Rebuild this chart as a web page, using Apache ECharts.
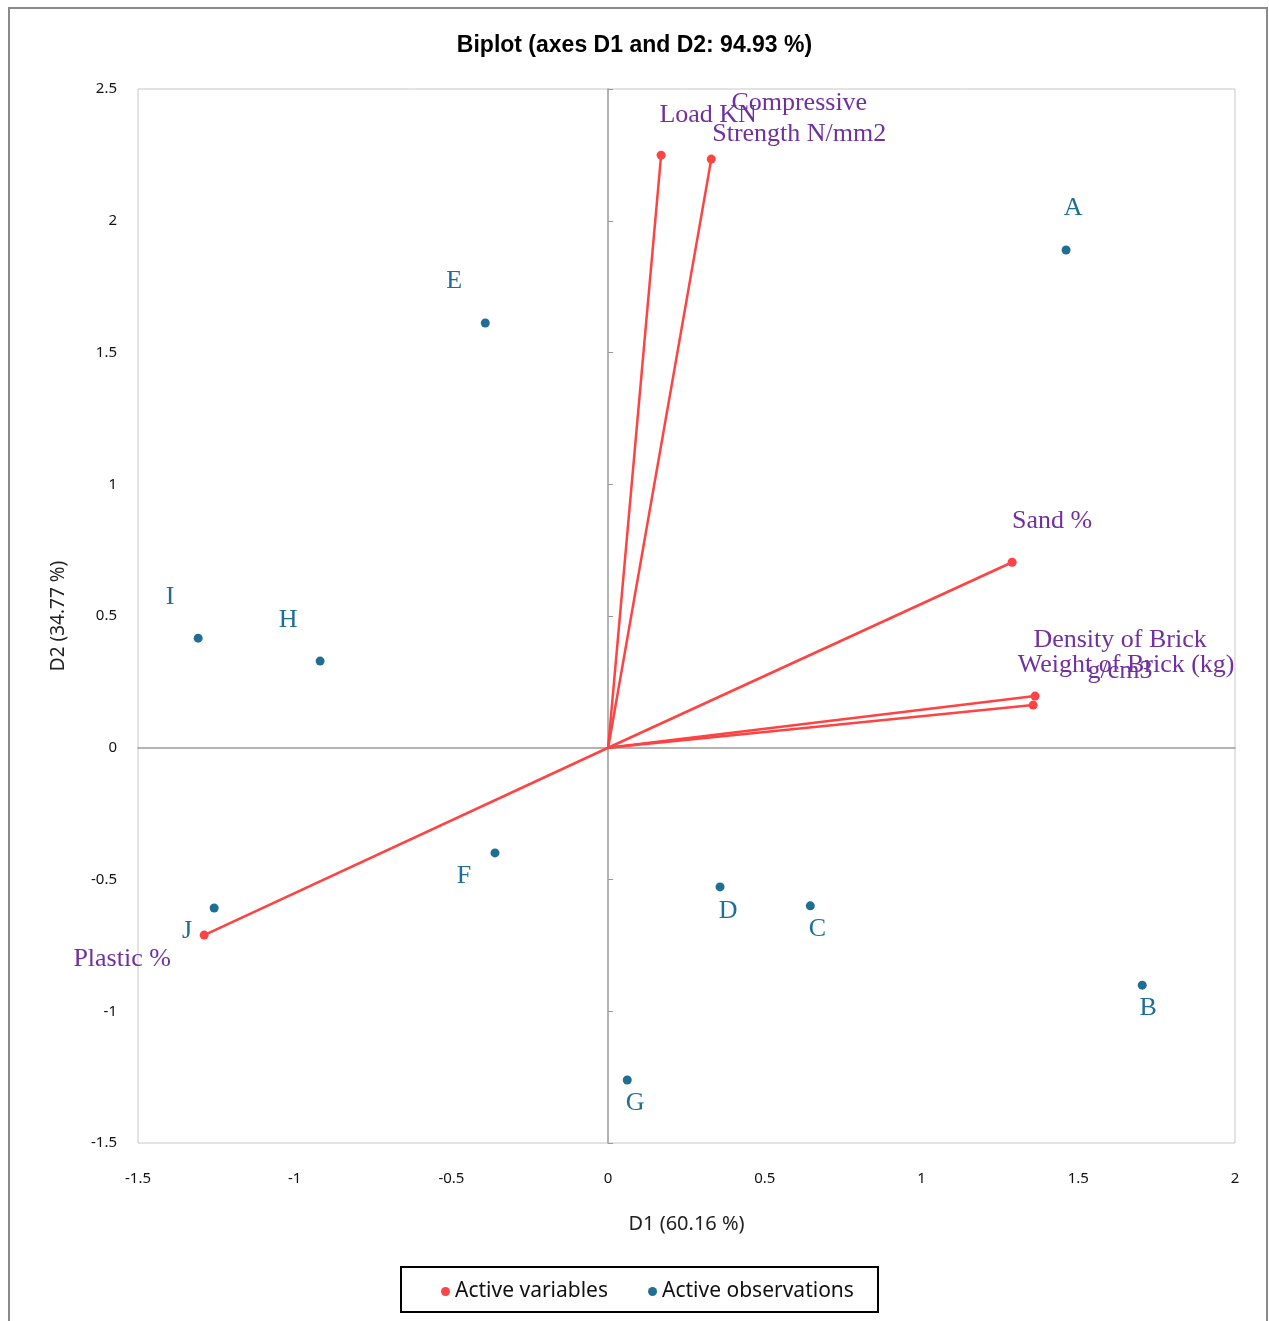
<!DOCTYPE html>
<html style="height: 100%">
<head>
<meta charset="utf-8">
<title>Biplot</title>
<script src="https://cdn.jsdelivr.net/npm/echarts@6/dist/echarts.min.js"></script>
</head>
<body style="height: 100%; margin: 0; background: #fff">
<div id="target" style="width: 1269px; height: 1321px"></div>
<script>
// observations (blue points)
const obsNames = ['A', 'B', 'C', 'D', 'E', 'F', 'G', 'H', 'I', 'J'];
const obsD1 = [1.461, 1.704, 0.645, 0.357, -0.392, -0.361, 0.061, -0.919, -1.308, -1.257];
const obsD2 = [1.889, -0.901, -0.600, -0.528, 1.612, -0.399, -1.261, 0.329, 0.416, -0.608];

// variables (red vectors from origin)
const varNames = ['Load KN', 'Compressive\nStrength N/mm2', 'Sand %', 'Density of Brick\ng/cm3', 'Weight of Brick (kg)', 'Plastic %'];
const varD1 = [0.169, 0.329, 1.289, 1.362, 1.356, -1.289];
const varD2 = [2.249, 2.234, 0.704, 0.196, 0.162, -0.711];

const xMin = -1.5, xMax = 2, yMin = -1.5, yMax = 2.5, step = 0.5;

// label offsets in pixels (centre of label relative to point)
const obsOffset = {
    A: [7, -42], B: [6, 23], C: [7, 23], D: [8, 24], E: [-31, -42],
    F: [-31, 23], G: [8, 23], H: [-32, -41], I: [-28, -41], J: [-27, 23]
};
const varOffset = [[47, -40], [88, -40], [40, -41], [85, -40], [93, -40], [-82, 24]];

const red = '#ff4242';
const blue = '#1f6e96';
const purple = '#7030a0';
const serif = '"Liberation Serif", "DejaVu Serif", serif';
const sans = '"Noto Sans", "DejaVu Sans", sans-serif';

let chart = echarts.init(document.getElementById('target'));

let vectorSeries = varNames.map((n, i) => ({
    name: 'vec' + i,
    type: 'line',
    xAxisIndex: 0,
    yAxisIndex: 0,
    data: [[0, 0], [varD1[i], varD2[i]]],
    showSymbol: false,
    symbol: 'none',
    silent: true,
    lineStyle: { color: red, width: 2.5 },
    z: 3,
}));

let option = {
    animation: false,
    backgroundColor: '#fff',
    title: {
        text: 'Biplot (axes D1 and D2: 94.93 %)',
        left: 'center',
        top: 29,
        textStyle: {
            fontFamily: '"Liberation Sans", Arial, sans-serif',
            fontWeight: 'bold',
            fontSize: 23,
            color: '#000',
        },
    },
    legend: {
        data: ['Active variables', 'Active observations'],
        left: 436,
        top: 1276,
        icon: 'circle',
        itemWidth: 9,
        itemHeight: 9,
        itemGap: 40,
        textStyle: { fontFamily: sans, fontSize: 21, color: '#111' },
    },
    grid: {
        left: 138,
        right: 34,
        top: 89,
        bottom: 178,
        show: true,
        borderColor: '#c8c8c8',
        borderWidth: 1,
    },
    xAxis: [
        {
            type: 'value',
            min: xMin, max: xMax, interval: step,
            position: 'bottom',
            name: 'D1 (60.16 %)',
            nameLocation: 'middle',
            nameGap: 71,
            nameTextStyle: { fontFamily: sans, fontSize: 20, color: '#222' },
            axisLine: { show: false },
            axisTick: { show: false },
            splitLine: { show: false },
            axisLabel: { margin: 28, fontFamily: sans, fontSize: 15, color: '#111' },
        },
        {
            type: 'value',
            min: xMin, max: xMax, interval: step,
            axisLine: { show: true, onZero: true, onZeroAxisIndex: 1, lineStyle: { color: '#9a9a9a', width: 1.5 } },
            axisTick: { show: false },
            axisLabel: { show: false },
            splitLine: { show: false },
        },
    ],
    yAxis: [
        {
            type: 'value',
            min: yMin, max: yMax, interval: step,
            position: 'left',
            name: 'D2 (34.77 %)',
            nameLocation: 'middle',
            nameGap: 70,
            nameTextStyle: { fontFamily: sans, fontSize: 19, color: '#222' },
            axisLine: { show: false },
            axisTick: { show: false },
            splitLine: { show: false },
            axisLabel: { margin: 21, fontFamily: sans, fontSize: 15, color: '#111' },
        },
        {
            type: 'value',
            min: yMin, max: yMax, interval: step,
            axisLine: { show: true, onZero: true, onZeroAxisIndex: 1, lineStyle: { color: '#9a9a9a', width: 1.5 } },
            axisTick: { show: true, length: 5, lineStyle: { color: '#9a9a9a' } },
            axisLabel: { show: false },
            splitLine: { show: false },
        },
    ],
    graphic: [
        {
            type: 'rect',
            shape: { x: 9, y: 8, width: 1258, height: 1340 },
            style: { fill: null, stroke: '#8a8a8a', lineWidth: 2 },
            silent: true,
        },
        {
            type: 'rect',
            shape: { x: 401, y: 1267, width: 477, height: 45 },
            style: { fill: null, stroke: '#000', lineWidth: 2 },
            silent: true,
        },
    ],
    series: vectorSeries.concat([
        {
            name: 'Active variables',
            type: 'scatter',
            xAxisIndex: 0,
            yAxisIndex: 0,
            symbolSize: 9,
            itemStyle: { color: red, opacity: 1 },
            z: 4,
            data: varNames.map((n, i) => ({
                value: [varD1[i], varD2[i]],
                name: n,
                label: {
                    show: true,
                    position: 'inside',
                    offset: varOffset[i],
                    formatter: n,
                    align: 'center',
                    verticalAlign: 'middle',
                    fontFamily: serif,
                    fontSize: 26,
                    lineHeight: 31,
                    color: purple,
                    opacity: 1,
                },
            })),
        },
        {
            name: 'Active observations',
            type: 'scatter',
            xAxisIndex: 0,
            yAxisIndex: 0,
            symbolSize: 9,
            itemStyle: { color: blue, opacity: 1 },
            z: 4,
            data: obsNames.map((n, i) => ({
                value: [obsD1[i], obsD2[i]],
                name: n,
                label: {
                    show: true,
                    position: 'inside',
                    offset: obsOffset[n],
                    formatter: n,
                    align: 'center',
                    verticalAlign: 'middle',
                    fontFamily: serif,
                    fontSize: 26,
                    color: blue,
                    opacity: 1,
                },
            })),
        },
    ]),
};

chart.setOption(option);
</script>
</body>
</html>
